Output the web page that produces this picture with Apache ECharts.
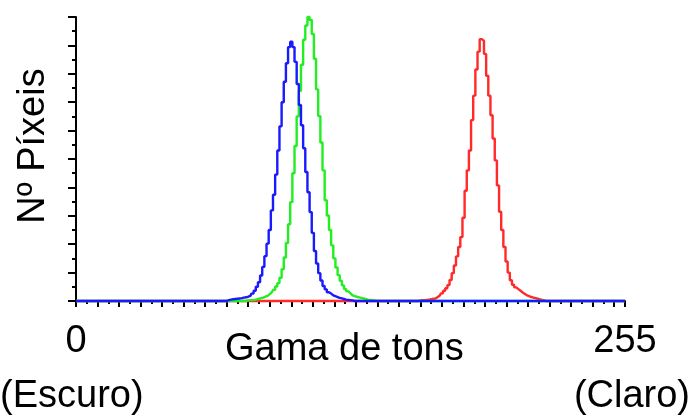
<!DOCTYPE html>
<html>
<head>
<meta charset="utf-8">
<script src="https://cdn.jsdelivr.net/npm/echarts@6/dist/echarts.min.js"></script>
<style>
  html, body { margin: 0; padding: 0; background: #fff; }
  #chart { width: 694px; height: 417px; }
</style>
</head>
<body>
<div id="chart"></div>
<script>
// Tonal histogram, 256 levels (0 = dark, 255 = light), one trace per channel.
const levels = 256;

// Counts per level, starting at the given level; every other level is empty.
const redFrom = 160;
const redCounts = [0.2, 0.3, 0.3, 0.4, 0.5, 0.6, 0.8, 0.9, 1.4, 1.9, 2.7, 3.6, 4.5, 5.6, 7.4, 9.8,
  12.5, 15.7, 19, 22.5, 29.3, 38.8, 46, 53, 63.7, 72.3, 81.5, 87.8, 92.2, 91.6, 87, 79.3, 72.3,
  65.4, 57.2, 49.5, 40.7, 31.4, 25, 19, 13.9, 10, 7.3, 5.7, 4.8, 4.2, 3.6, 3.0, 2.5, 2.0, 1.7,
  1.4, 1.2, 1.0, 0.8, 0.6, 0.4, 0.2];

const greenFrom = 80;
const greenCounts = [0.2, 0.3, 0.3, 0.4, 0.6, 0.8, 1.0, 1.2, 1.5, 1.8, 2.4, 3.1, 3.9, 5.1, 6.3,
  8.2, 11.2, 15.3, 20.4, 27, 34.8, 45, 54.6, 65, 74, 83.2, 92, 97, 100, 99, 94, 85.3, 74.5, 65.1,
  55.8, 46, 35.5, 30.1, 25, 19.6, 15, 11.8, 9.1, 7.1, 5.5, 4.2, 3.4, 2.7, 2.0, 1.7, 1.5, 1.3,
  1.1, 0.9, 0.7, 0.5, 0.4, 0.3, 0.2];

const blueFrom = 71;
const blueCounts = [0.3, 0.5, 0.6, 0.7, 0.8, 0.9, 1.0, 1.2, 1.3, 1.5, 1.8, 2.6, 3.6, 5.0, 6.6,
  9.0, 12.0, 15.8, 20.2, 25, 31.9, 37.4, 44.5, 53, 61.5, 70, 77.2, 83.7, 89.4, 91.3, 89.4, 84.2,
  76.4, 69, 61.9, 53.8, 45.4, 38.3, 31.3, 24, 17.6, 13.2, 9.8, 7.2, 5.3, 4.1, 3.1, 2.6, 2.0,
  1.7, 1.4, 1.1, 0.9, 0.7, 0.5, 0.4, 0.3, 0.2];

// Tick labels and captions
const xTickLabels = ['0', '255'];
const xAxisTitle = 'Gama de tons';
const yAxisTitle = 'Nº Píxeis';
const darkCaption = '(Escuro)';
const lightCaption = '(Claro)';

function toSeries(from, counts) {
  const out = [];
  for (let i = 0; i < levels; i++) {
    const k = i - from;
    out.push([i, k >= 0 && k < counts.length ? counts[k] : 0]);
  }
  return out;
}

const font = '"Liberation Sans", Arial, sans-serif';
const textSize = 38;

function trace(name, color, from, counts) {
  return {
    name, type: 'line', step: 'middle', showSymbol: false, silent: true,
    data: toSeries(from, counts),
    lineStyle: { color, width: 2.4 },
    clip: false
  };
}

const chart = echarts.init(document.getElementById('chart'), null, { renderer: 'canvas' });
chart.setOption({
  animation: false,
  backgroundColor: '#ffffff',
  grid: { left: 76, right: 69, top: 17, bottom: 116, containLabel: false },
  xAxis: {
    type: 'value', min: 0, max: levels - 1, interval: 10,
    axisLine: { show: true, onZero: false, lineStyle: { color: '#000', width: 2 } },
    axisTick: { show: true, length: 6, lineStyle: { color: '#000', width: 2 } },
    minorTick: { show: true, splitNumber: 2, length: 3, lineStyle: { color: '#000', width: 2 } },
    splitLine: { show: false },
    axisLabel: {
      show: true, margin: 22, fontFamily: font, fontSize: textSize, color: '#000',
      showMinLabel: true, showMaxLabel: true,
      formatter: v => (v === 0 ? xTickLabels[0] : (v === levels - 1 ? xTickLabels[1] : ''))
    }
  },
  yAxis: {
    type: 'value', min: 0, max: 100, interval: 10,
    axisLine: { show: true, lineStyle: { color: '#000', width: 2 } },
    axisTick: { show: true, length: 8, lineStyle: { color: '#000', width: 2 } },
    minorTick: { show: true, splitNumber: 2, length: 4, lineStyle: { color: '#000', width: 2 } },
    splitLine: { show: false },
    axisLabel: { show: false }
  },
  graphic: [
    { type: 'text', left: 225, top: 331, style: { text: xAxisTitle, font: `${textSize}px ${font}`, fill: '#000' } },
    { type: 'text', left: 0, top: 378, style: { text: darkCaption, font: `${textSize}px ${font}`, fill: '#000' } },
    { type: 'text', right: 4, top: 378, style: { text: lightCaption, font: `${textSize}px ${font}`, fill: '#000' } },
    {
      type: 'text', x: 34, y: 146, rotation: Math.PI / 2,
      style: { text: yAxisTitle, font: `${textSize}px ${font}`, fill: '#000', align: 'center', verticalAlign: 'middle' }
    }
  ],
  series: [
    trace('R', '#ff2a2a', redFrom, redCounts),
    trace('G', '#22ee22', greenFrom, greenCounts),
    trace('B', '#1a1aff', blueFrom, blueCounts)
  ]
});
</script>
</body>
</html>
